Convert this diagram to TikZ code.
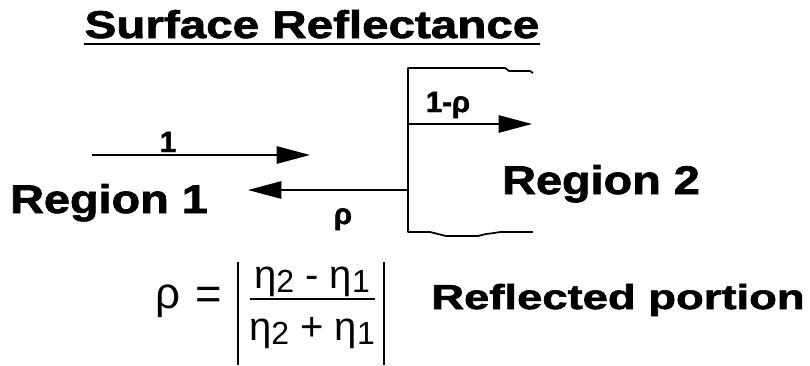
\documentclass[tikz,border=0pt]{standalone}
\usepackage{fontspec}
\setmainfont{Liberation Sans}[BoldFeatures={FakeBold=1.6}]
\usetikzlibrary{arrows.meta}

\tikzset{
  ray/.style={line width=1.3pt, -{Triangle[length=25pt,width=13pt]}},
  wall/.style={line width=1.3pt, line join=round},
  region/.style={font=\fontsize{30}{33}\selectfont\bfseries, inner sep=0pt, anchor=base},
  raylabel/.style={font=\fontsize{22}{24}\selectfont\bfseries, inner sep=0pt, anchor=base},
  formula/.style={font=\fontsize{30}{32}\selectfont, inner sep=0pt, anchor=base},
}
\newcommand{\wide}[2]{\scalebox{#1}[1]{#2}}
\newcommand{\etaidx}[1]{η\raisebox{-0.12em}{\fontsize{24}{26}\selectfont #1}}

\begin{document}
\begin{tikzpicture}[x=0.75pt, y=-0.75pt]
  \useasboundingbox (0,0) rectangle (810,365);

  % Titel
  \node[inner sep=0pt, anchor=base, font=\fontsize{29}{32}\selectfont\bfseries] (title) at (312,38) {\wide{1.23}{Surface Reflectance}};
  \draw[line width=1.8pt] ([yshift=-4.5pt]title.base west) -- ([yshift=-4.5pt]title.base east);

  % Grenzflaeche
  \draw[wall] (533,73) -- (530,71) -- (509,71) -- (505,68) -- (408,68) -- (408,232)
    -- (430,232) -- (438,234) -- (446,236) -- (478,236) -- (486,234) -- (494,233)
    -- (500,232) -- (533,232);

  % Strahlen
  \coordinate (src) at (92,155);
  \coordinate (inc) at (310,155);
  \coordinate (hit) at (408,190);
  \coordinate (back) at (248,190);
  \coordinate (enter) at (408,124);
  \coordinate (out) at (532,124);
  \draw[ray] (src) -- (inc);
  \draw[ray] (hit) -- (back);
  \draw[ray] (enter) -- (out);

  \node[raylabel] (one) at (168,152) {1};
  \node[raylabel] (refl) at (343,224) {ρ};
  \node[raylabel] (trans) at (448,112) {1-ρ};

  \node[region] (reg1) at (109,213) {\wide{1.17}{Region 1}};
  \node[region] (reg2) at (601,194) {\wide{1.17}{Region 2}};

  % Formel
  \node[formula, font=\fontsize{33}{35}\selectfont] (rho) at (168,308) {ρ};
  \node[formula, font=\fontsize{34}{36}\selectfont] (eq) at (209,309) {=};
  \coordinate (fl) at (250,299);
  \coordinate (fr) at (375,299);
  \draw[line width=1.2pt] (fl) -- (fr);
  \node[formula] (num) at (312,288) {\etaidx{2} - \etaidx{1}};
  \node[formula] (den) at (312,340) {\etaidx{2} + \etaidx{1}};
  \draw[line width=1.2pt] (238,262) -- (238,365);
  \draw[line width=1.2pt] (384,262) -- (384,365);
  \node[inner sep=0pt, anchor=base, font=\fontsize{26}{28}\selectfont\bfseries] (note) at (618,309) {\wide{1.31}{Reflected portion}};
\end{tikzpicture}
\end{document}
